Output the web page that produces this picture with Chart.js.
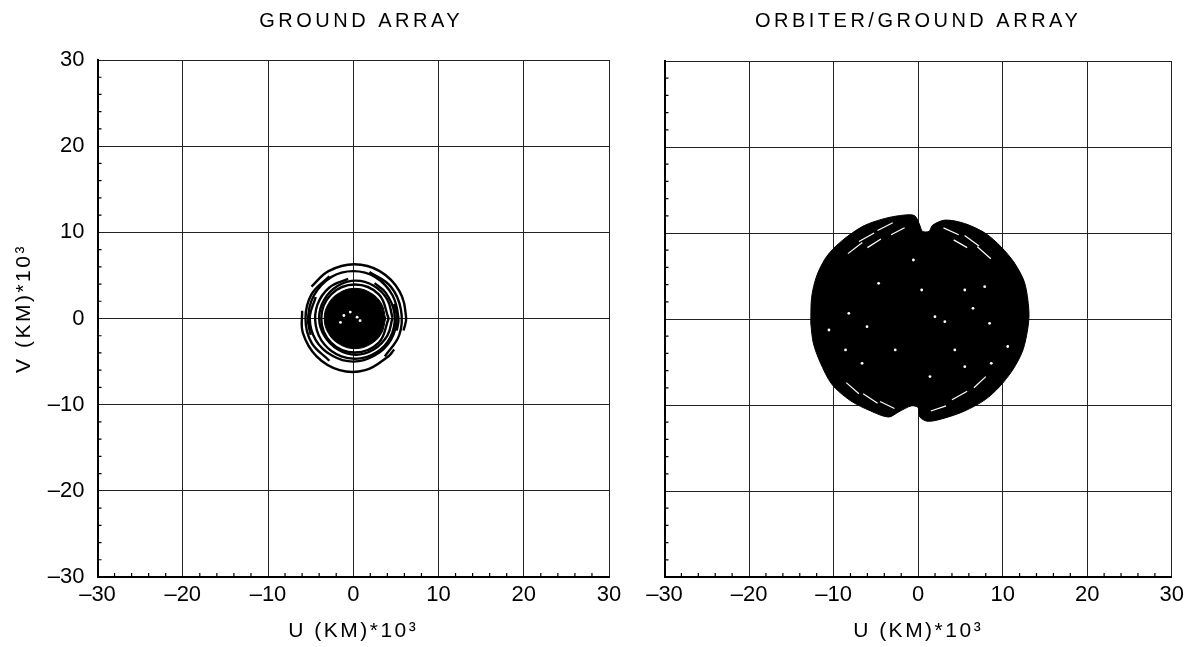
<!DOCTYPE html>
<html>
<head>
<meta charset="utf-8">
<script src="https://cdn.jsdelivr.net/npm/chart.js@4.4.1/dist/chart.umd.min.js"></script>
<style>
  html, body { margin: 0; padding: 0; background: #fff; }
  #wrap { position: relative; width: 1189px; height: 647px; }
  canvas { position: absolute; top: 0; }
  #ground { left: 0; }
  #orbiter { left: 636px; }
</style>
</head>
<body>
<div id="wrap">
  <canvas id="ground" width="636" height="647"></canvas>
  <canvas id="orbiter" width="553" height="647"></canvas>
</div>
<script>
const tickValues = [-30, -20, -10, 0, 10, 20, 30];
const minorTickValues = [-28, -26, -24, -22, -18, -16, -14, -12, -8, -6, -4, -2,
                         2, 4, 6, 8, 12, 14, 16, 18, 22, 24, 26, 28];

const titles = ['GROUND ARRAY', 'ORBITER/GROUND ARRAY'];
const uLabel = 'U (KM)*10³';
const vLabel = 'V (KM)*10³';

// ground array u-v tracks, [u, v] in units of 10^3 km
const groundTrack1 = [[-4.9, 3.7], [-2.9, 5.5], [0.1, 6.3], [3.1, 5.5], [5.4, 3.2], [6.2, 0.1], [5.9, -1.4]];
const groundTrack2 = [[-6.0, 0.9], [-5.9, -1.7], [-4.3, -4.4], [-1.6, -6.0], [1.4, -6.0], [4.1, -4.4], [4.8, -3.6]];
const groundTrack3 = [[-5.0, -1.9], [-5.3, 0], [-4.6, 2.7], [-2.6, 4.8], [0, 5.5], [2.6, 4.8], [4.6, 2.7], [5.3, 0], [5.1, -1.4]];
const groundTrack4 = [[-4.4, 2.5], [-5.1, 0], [-4.4, -2.5], [-2.5, -4.3], [0, -5.0], [2.5, -4.3], [4.4, -2.5], [5.1, 0], [4.8, 1.7]];
const groundTrack5 = [[-0.6, 4.6], [-2.8, 3.6], [-4.2, 1.6], [-4.4, -0.8], [-3.4, -3.0], [-1.4, -4.4], [1.0, -4.6],
                      [3.2, -3.6], [4.6, -1.6], [4.8, 0.8], [3.8, 3.0], [2.5, 4.1]];
const groundTrack6 = [[4.6, 0.1], [4.0, 2.2], [2.4, 3.8], [0.3, 4.4], [-1.8, 3.8], [-3.4, 2.2], [-4.0, 0.1],
                      [-3.4, -2.0], [-1.8, -3.6], [0.3, -4.2], [2.4, -3.6], [4.0, -2.0], [4.6, 0.1]];
const groundTrack7 = [[4.15, 0], [3.0, 2.8], [0.2, 3.95], [-2.6, 2.8], [-3.75, 0], [-2.6, -2.8], [0.2, -3.95], [3.0, -2.8], [4.15, 0]];
const groundTrack8 = [[1.9, 5.4], [4.4, 3.7], [5.6, 1.0], [5.4, -1.9], [3.7, -4.4]];
const groundTrack9 = [[-2.8, 4.9], [-4.9, 2.8], [-5.6, 0], [-4.9, -2.8], [-2.8, -4.9]];
const groundCore = [[3.8, 0], [3.3, 1.75], [2.0, 3.0], [0.2, 3.5], [-1.6, 3.0], [-2.9, 1.75], [-3.4, 0],
                    [-2.9, -1.75], [-1.6, -3.0], [0.2, -3.5], [2.0, -3.0], [3.3, -1.75], [3.8, 0]];
const groundSpecks = [[-1.1, 0.35], [-0.35, 0.75], [0.45, 0.15], [0.8, -0.25], [-1.5, -0.45]];

// orbiter/ground array coverage: outline of the filled region
const orbiterOutline = [[-12.7, -0.5], [-12.6, 2.5], [-12.0, 5.0], [-10.8, 7.3], [-9.0, 9.1], [-6.5, 10.8],
  [-3.9, 11.7], [-1.5, 12.1], [-0.4, 12.0], [0.2, 10.9], [0.5, 10.2], [1.3, 10.2], [1.7, 10.9], [3.2, 11.5],
  [5.5, 11.1], [7.9, 10.0], [9.8, 8.4], [11.4, 6.5], [12.6, 4.2], [13.1, 1.0], [13.0, -0.9], [12.4, -3.6],
  [11.2, -5.9], [9.6, -7.9], [7.9, -9.4], [5.5, -10.7], [3.2, -11.5], [1.2, -11.9], [0.2, -11.4], [0.0, -10.3],
  [-0.8, -10.1], [-2.3, -10.8], [-3.5, -11.4], [-5.6, -10.7], [-8.0, -9.5], [-10.2, -7.6], [-11.6, -5.0],
  [-12.4, -2.8], [-12.7, -0.5]];
const orbiterSpecks = [[-0.56, 6.86], [-8.2, 0.66], [-6.05, -0.89], [6.49, 1.24], [8.45, -0.5], [3.16, -0.31],
  [5.52, -5.54], [1.4, -6.7], [1.99, 0.27], [-4.67, 4.15], [-10.55, -1.28], [10.6, -3.2], [7.87, 3.76],
  [-2.71, -3.6], [4.34, -3.6], [-6.63, -5.15], [0.42, 3.37], [5.52, 3.37], [-8.59, -3.6], [8.65, -5.15]];
// white gaps between the track bundles near the rim
const orbiterStreaks = [
  [[-7.0, 9.0], [-5.2, 10.0]], [[-8.3, 7.6], [-6.6, 8.9]], [[-4.8, 10.3], [-3.0, 11.2]],
  [[-6.0, 8.3], [-4.4, 9.3]], [[-3.2, 9.8], [-1.6, 10.6]], [[3.0, 10.6], [4.8, 9.8]],
  [[5.5, 9.7], [7.2, 8.5]], [[7.0, 8.4], [8.6, 7.0]], [[4.2, 9.2], [5.8, 8.3]],
  [[-8.5, -7.4], [-7.0, -8.7]], [[-6.5, -8.7], [-4.8, -9.8]], [[-4.5, -9.6], [-2.8, -10.4]],
  [[1.5, -10.7], [3.3, -10.1]], [[4.0, -9.4], [5.8, -8.4]], [[6.6, -8.0], [8.0, -6.7]]
];

const FONT = '"Liberation Sans", Arial, Helvetica, sans-serif';
const pts = arr => arr.map(([u, v]) => ({x: u, y: v}));

function track(arr) {
  return {data: pts(arr), showLine: true, borderColor: '#000', borderWidth: 2.4,
          pointRadius: 0, tension: 0.4, fill: false, order: 3};
}
function blob(arr, t) {
  return {data: pts(arr), showLine: true, borderColor: '#000', backgroundColor: '#000',
          borderWidth: 1, pointRadius: 0, tension: t, fill: 'shape', order: 4};
}
function specks(arr) {
  return {data: pts(arr), showLine: false, pointRadius: 1.4, pointBackgroundColor: '#fff',
          pointBorderWidth: 0, order: 1};
}
function streak(seg) {
  return {data: pts(seg), showLine: true, borderColor: '#fff', borderWidth: 1.2,
          pointRadius: 0, fill: false, order: 2};
}

// inward minor ticks, panel title and axis titles
const frameText = {
  id: 'frameText',
  afterDraw(chart, args, o) {
    const {ctx, chartArea: a, scales: {x, y}} = chart;
    ctx.save();
    ctx.strokeStyle = '#000';
    ctx.lineWidth = 1.2;
    ctx.beginPath();
    minorTickValues.forEach(v => {
      const py = y.getPixelForValue(v), px = x.getPixelForValue(v);
      ctx.moveTo(a.left, py); ctx.lineTo(a.left + 4, py);
      ctx.moveTo(px, a.bottom); ctx.lineTo(px, a.bottom - 4);
    });
    ctx.stroke();

    ctx.fillStyle = '#000';
    ctx.textAlign = 'center';
    ctx.textBaseline = 'middle';
    ctx.font = '20px ' + FONT;
    const cx = (a.left + a.right) / 2;
    ctx.letterSpacing = '3.5px';
    ctx.fillText(o.title, cx + o.titleShift, 21);
    ctx.font = '21px ' + FONT;
    ctx.letterSpacing = '2.5px';
    ctx.fillText(uLabel, cx, 631);
    if (o.vTitle) {
      ctx.translate(24, (a.top + a.bottom) / 2 - 10);
      ctx.rotate(-Math.PI / 2);
      ctx.fillText(vLabel, 0, 0);
    }
    ctx.restore();
  }
};

function axes(showY, yWidth) {
  const setTicks = s => { s.ticks = tickValues.map(v => ({value: v})); };
  const lab = v => String(v).replace('-', '–');
  return {
    x: {
      type: 'linear', min: -30, max: 30,
      afterBuildTicks: setTicks,
      afterFit: s => { s.height = 70; },
      ticks: {color: '#000', font: {family: FONT, size: 22}, padding: 5, callback: lab, maxRotation: 0},
      grid: {color: '#222', lineWidth: 1, drawTicks: false},
      border: {color: '#000', width: 2}
    },
    y: {
      type: 'linear', min: -30, max: 30,
      afterBuildTicks: setTicks,
      afterFit: s => { s.width = yWidth; },
      ticks: {display: showY, color: '#000', font: {family: FONT, size: 22}, padding: 13, callback: lab},
      grid: {color: '#222', lineWidth: 1, drawTicks: false},
      border: {color: '#000', width: 2}
    }
  };
}

function makeChart(id, datasets, opts) {
  return new Chart(document.getElementById(id), {
    type: 'scatter',
    data: {datasets: datasets},
    options: {
      responsive: false,
      animation: false,
      devicePixelRatio: 1,
      layout: {padding: opts.padding},
      scales: axes(opts.showY, opts.yWidth),
      plugins: {
        legend: {display: false},
        tooltip: {enabled: false},
        frameText: {title: opts.title, titleShift: opts.titleShift, vTitle: opts.showY}
      }
    },
    plugins: [frameText]
  });
}

makeChart('ground', [
  specks(groundSpecks),
  track(groundTrack1), track(groundTrack2), track(groundTrack3), track(groundTrack4),
  track(groundTrack5), track(groundTrack6), track(groundTrack7), track(groundTrack8), track(groundTrack9),
  blob(groundCore, 0.4)
], {title: titles[0], titleShift: 8, showY: true, yWidth: 97.5,
    padding: {top: 60, right: 27, left: 0, bottom: 0}});

makeChart('orbiter', [
  specks(orbiterSpecks),
  ...orbiterStreaks.map(streak),
  blob(orbiterOutline, 0.3)
], {title: titles[1], titleShift: 0, showY: false, yWidth: 28.5,
    padding: {top: 61, right: 14, left: 0, bottom: 0}});
</script>
</body>
</html>
